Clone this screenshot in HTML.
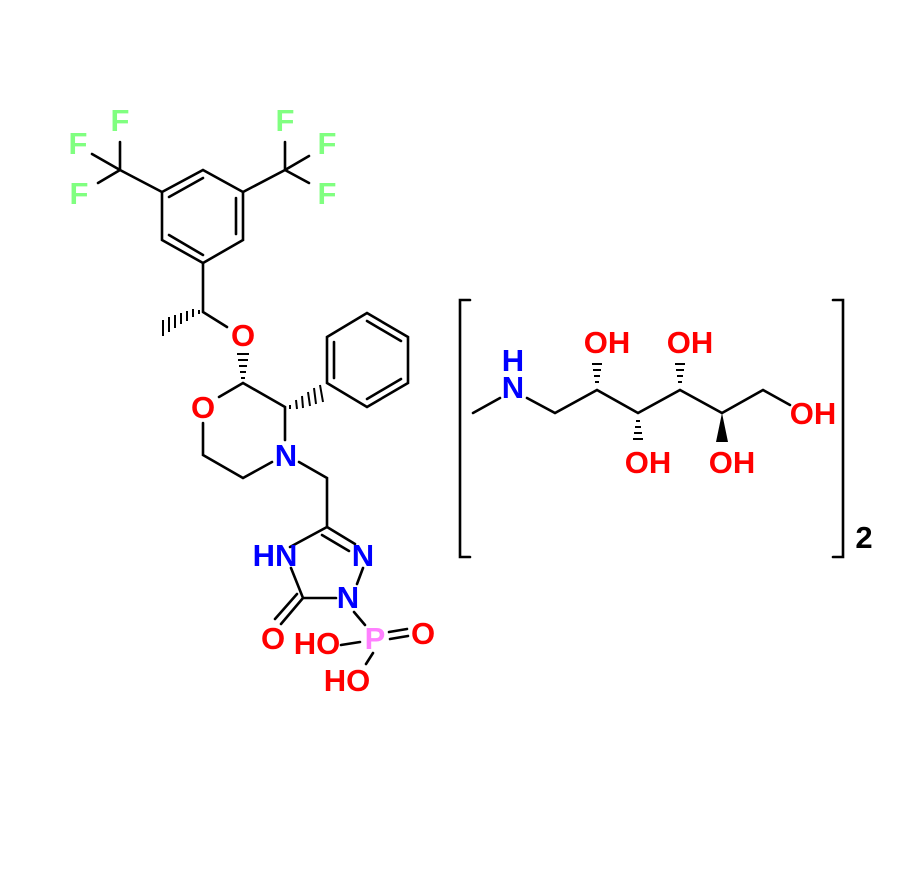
<!DOCTYPE html>
<html><head><style>
html,body{margin:0;padding:0;background:#fff;}
svg text{font-family:"Liberation Sans",sans-serif;font-weight:bold;font-size:31px;text-anchor:middle;}
</style></head><body>
<svg width="905" height="880" viewBox="0 0 905 880" xmlns="http://www.w3.org/2000/svg">
<g stroke="#000" stroke-width="2.6" fill="none" stroke-linecap="round">
<path d="M203,170 L243,192 L243,240 L203,263 L162,240 L162,192 Z"/>
<path d="M169,197 L203,178 M236,198 L236,234 M169,235 L203,255"/>
<path d="M162,192 L120,170 M120,170 L120,142 M120,170 L92,154 M120,170 L98,183"/>
<path d="M243,192 L285,170 M285,170 L285,142 M285,170 L309,156 M285,170 L309,183"/>
<path d="M203,263 L203,312 M203,312 L227,327"/>
<path d="M243,383 L219,397 M203,423 L203,455 L243,478 L272,462 M299,462 L327,478 L327,527 M243,383 L285,407 L285,440"/>
<path d="M327,383 L327,337 L367,313 L408,337 L408,383 L367,407 Z"/>
<path d="M334,342 L334,378 M367,321 L401,341 M367,399 L401,379"/>
<path d="M327,527 L290,547 M327,527 L355,544 M322,535 L349,551 M363,568 L357,584 M336,598 L303,598 L291,568 M303,598 L281,624 M297,594 L275,619 M354,612 L365,625 M341,645 L360,642 M390,639 L408,636 M389,632 L407,629 M373,653 L366,664"/>
<path d="M470,300 L460,300 L460,557 L470,557 M833,300 L843,300 L843,557 L833,557"/>
<path d="M473,413 L500,398 M527,398 L555,413 L597,390 L638,413 L680,390 L722,413 L763,390 L790,405"/>
</g>
<g stroke="#000" stroke-width="2">
<path d="M199,314 L199,310 M193,317 L193,309 M187,321 L187,311 M181,324 L181,313 M175,328 L175,315 M169,332 L169,317 M163,336 L163,320"/>
<path d="M241,378 L245,378 M240,372 L246,372 M239,366 L247,366 M238,360 L248,360 M237,354 L249,354"/>
<path d="M290,405 L290,409 M296,400 L297,409 M302,396 L303,408 M308,392 L310,406 M314,388 L316,404 M320,385 L323,402"/>
<path d="M595,382 L599,382 M594,376 L600,376 M593,370 L601,370 M592,364 L602,364"/>
<path d="M636,421 L640,421 M635,427 L641,427 M634,433 L642,433 M633,439 L643,439"/>
<path d="M678,382 L682,382 M677,376 L683,376 M676,370 L684,370 M675,364 L685,364"/>
</g>
<path d="M722,413 L716,442 L728,442 Z" fill="#000"/>
<g fill="#80ff80">
<text x="120" y="131">F</text><text x="78" y="154">F</text><text x="79" y="204">F</text>
<text x="285" y="131">F</text><text x="327" y="154">F</text><text x="327" y="204">F</text>
</g>
<g fill="#f00">
<text x="243" y="346">O</text><text x="203" y="418">O</text>
<text x="273" y="649">O</text><text x="317" y="654">HO</text><text x="423" y="644">O</text><text x="347" y="691">HO</text>
<text x="607" y="353">OH</text><text x="648" y="473">OH</text><text x="690" y="353">OH</text><text x="732" y="473">OH</text><text x="813" y="424">OH</text>
</g>
<g fill="#00f">
<text x="286" y="466">N</text><text x="275" y="566">HN</text><text x="363" y="566">N</text><text x="348" y="608">N</text>
<text x="513" y="371">H</text><text x="513" y="398">N</text>
</g>
<text x="375" y="649" fill="#ff80ff">P</text>
<text x="864" y="548" fill="#000">2</text>
</svg>
</body></html>
